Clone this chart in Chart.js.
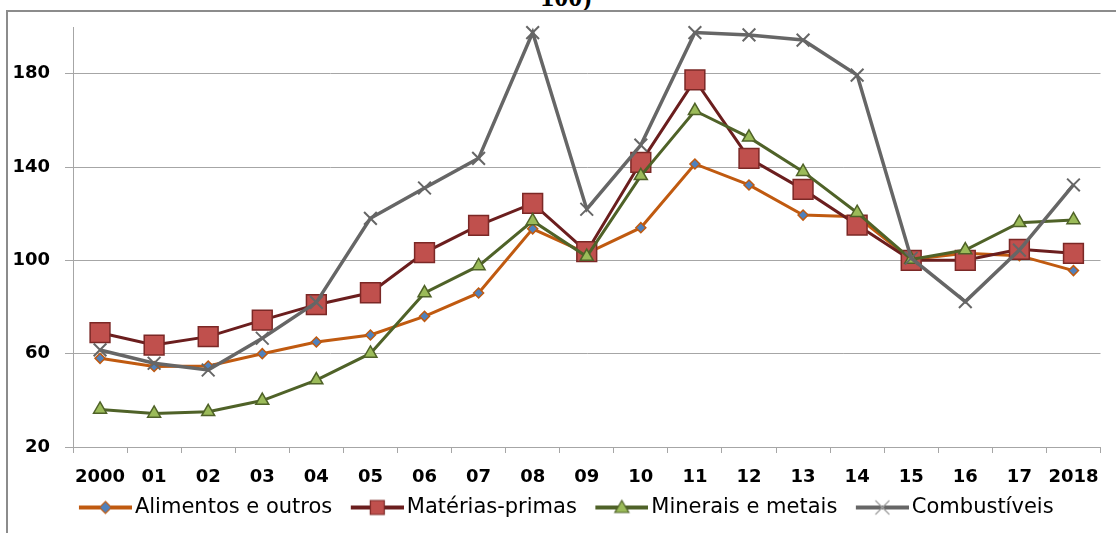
<!DOCTYPE html>
<html>
<head>
<meta charset="utf-8">
<script src="https://cdn.jsdelivr.net/npm/chart.js@4/dist/chart.umd.min.js"></script>
<style>
  html, body { margin: 0; padding: 0; background: #fff; overflow: hidden; }
  #wrap { position: relative; width: 1116px; height: 533px; overflow: hidden; }
  #fh { position: absolute; left: 6px; top: 10px; width: 1110px; height: 2px; background: #8c8c8c; }
  #fv { position: absolute; left: 6px; top: 10px; width: 2px; height: 523px; background: #8c8c8c; }
  #ttl { position: absolute; left: 0; width: 1132px; text-align: center; top: -17px;
         font: bold 28px "Liberation Serif", serif; line-height: 28px; color: #000; }
  #box { position: absolute; left: 0; top: 0; width: 1116px; height: 533px; }
</style>
</head>
<body>
<div id="wrap">
  <div id="ttl">100)</div>
  <div id="fh"></div>
  <div id="fv"></div>
  <div id="box"><canvas id="c"></canvas></div>
</div>
<script>
const years = ['2000','01','02','03','04','05','06','07','08','09','10','11','12','13','14','15','16','17','2018'];
const seriesNames = ['Alimentos e outros', 'Matérias-primas', 'Minerais e metais', 'Combustíveis'];
const alimentos = [58, 54.5, 54.7, 60, 65, 68, 76, 86, 113.5, 103, 114, 141.3, 132.3, 119.4, 118.7, 100.4, 103, 102, 95.6];
const materias  = [69, 63.7, 67.3, 74.4, 81, 86.1, 103.3, 115, 124.4, 103.7, 142, 177.3, 143.7, 130.4, 115.1, 100, 100, 104.7, 103];
const minerais  = [36.1, 34.4, 35.1, 39.9, 48.7, 60.1, 86, 97.6, 116.9, 101.6, 136.2, 164.1, 152.7, 138, 120.4, 100.4, 104.4, 116.1, 117.3];
const combust   = [61.6, 55.9, 53, 66.6, 82, 118, 131, 143.7, 197.6, 121.9, 149.4, 197.6, 196.6, 194.4, 179.4, 100.9, 82.3, 104.4, 132.3];
const yTicks = [20, 60, 100, 140, 180];

const C_ORANGE = '#C05A10', C_BLUE = '#4F81BD';
const C_MAROON = '#6B1E1E', C_RED = '#C0504D', C_REDB = '#7B2826';
const C_OLIVE = '#4F6228', C_LGREEN = '#9BBB59';
const C_GREY = '#666666';
const GRID = '#A6A6A6';

const BOXW = 56, ICONW = 71;
function icon(lineColor, kind, fill, border) {
  const c = document.createElement('canvas');
  c.width = ICONW; c.height = 20;
  const ctx = c.getContext('2d');
  const x0 = ICONW - 53;
  ctx.strokeStyle = lineColor; ctx.lineWidth = 4;
  ctx.beginPath(); ctx.moveTo(x0, 10); ctx.lineTo(ICONW, 10); ctx.stroke();
  const x = x0 + 26.5, y = 10;
  ctx.fillStyle = fill; ctx.strokeStyle = border; ctx.lineWidth = 1.2;
  ctx.beginPath();
  if (kind === 'diamond') {
    ctx.moveTo(x, y - 6); ctx.lineTo(x + 6, y); ctx.lineTo(x, y + 6); ctx.lineTo(x - 6, y); ctx.closePath();
    ctx.fill(); ctx.stroke();
  } else if (kind === 'square') {
    ctx.rect(x - 7, y - 7, 14, 14); ctx.fill(); ctx.stroke();
  } else if (kind === 'triangle') {
    ctx.moveTo(x, y - 7); ctx.lineTo(x + 7, y + 5); ctx.lineTo(x - 7, y + 5); ctx.closePath();
    ctx.fill(); ctx.stroke();
  } else {
    ctx.strokeStyle = '#A0A0A0'; ctx.lineWidth = 1.3;
    ctx.moveTo(x - 7, y - 7); ctx.lineTo(x + 7, y + 7);
    ctx.moveTo(x + 7, y - 7); ctx.lineTo(x - 7, y + 7); ctx.stroke();
  }
  return c;
}
const icons = [
  icon(C_ORANGE, 'diamond', C_BLUE, C_ORANGE),
  icon(C_MAROON, 'square', C_RED, C_REDB),
  icon(C_OLIVE, 'triangle', C_LGREEN, C_OLIVE),
  icon(C_GREY, 'cross', C_GREY, C_GREY)
];

const datasets = [
  { label: seriesNames[0], data: alimentos, borderColor: C_ORANGE, borderWidth: 3,
    pointStyle: 'rectRot', pointRadius: 5, pointBackgroundColor: C_BLUE, pointBorderColor: C_ORANGE, pointBorderWidth: 1.5, order: 4 },
  { label: seriesNames[1], data: materias, borderColor: C_MAROON, borderWidth: 3,
    pointStyle: 'rect', pointRadius: 14, pointBackgroundColor: C_RED, pointBorderColor: C_REDB, pointBorderWidth: 1.5, order: 3 },
  { label: seriesNames[2], data: minerais, borderColor: C_OLIVE, borderWidth: 3,
    pointStyle: 'triangle', pointRadius: 7.5, pointBackgroundColor: C_LGREEN, pointBorderColor: C_OLIVE, pointBorderWidth: 1.5, order: 2 },
  { label: seriesNames[3], data: combust, borderColor: C_GREY, borderWidth: 3.5,
    pointStyle: 'crossRot', pointRadius: 9, pointBackgroundColor: C_GREY, pointBorderColor: C_GREY, pointBorderWidth: 2, order: 1 }
];
datasets.forEach(d => { d.tension = 0; d.fill = false; d.clip = false; });

new Chart(document.getElementById('c'), {
  type: 'line',
  data: { labels: years, datasets },
  options: {
    responsive: true,
    maintainAspectRatio: false,
    animation: false,
    layout: { padding: { left: 12, right: 6, top: 27, bottom: 5 } },
    plugins: {
      tooltip: { enabled: false },
      legend: {
        position: 'bottom',
        labels: {
          usePointStyle: true,
          pointStyleWidth: BOXW,
          padding: 8,
          color: '#000',
          font: { family: 'DejaVu Sans', size: 21 },
          generateLabels: (chart) => chart.data.datasets.map((ds, i) => ({
            text: ds.label, datasetIndex: i, hidden: false, pointStyle: icons[i],
            fontColor: '#000', lineWidth: 0, strokeStyle: 'rgba(0,0,0,0)', fillStyle: 'rgba(0,0,0,0)'
          }))
        }
      }
    },
    scales: {
      x: {
        offset: true,
        grid: { display: true, drawOnChartArea: false, drawTicks: true, tickLength: 6, color: GRID, offset: true },
        border: { color: GRID, width: 1 },
        ticks: { color: '#000', font: { family: 'DejaVu Sans', size: 18, weight: 'bold' }, padding: 14, maxRotation: 0, autoSkip: false },
        afterFit: (s) => { s.height = 42; }
      },
      y: {
        min: 20, max: 200,
        afterBuildTicks: (s) => { s.ticks = yTicks.map(v => ({ value: v })); },
        grid: { color: GRID, tickLength: 8, drawTicks: true },
        border: { color: GRID, width: 1 },
        ticks: { color: '#000', font: { family: 'DejaVu Sans', size: 18, weight: 'bold' }, padding: 15 },
        afterFit: (s) => { s.width = 61; }
      }
    }
  }
});
</script>
</body>
</html>
